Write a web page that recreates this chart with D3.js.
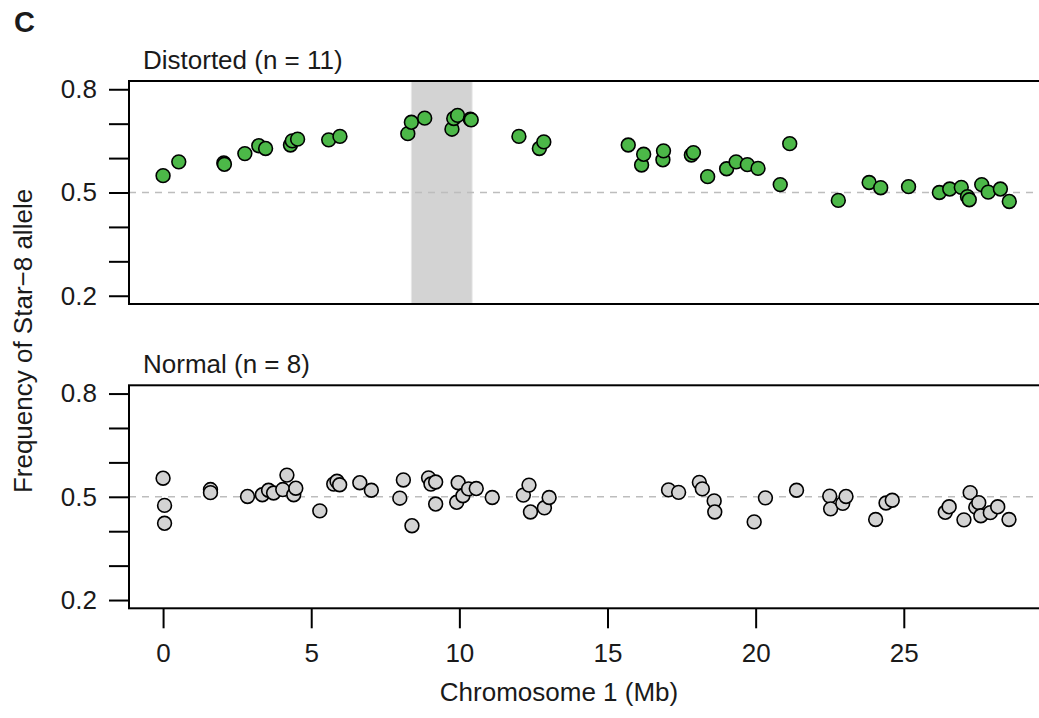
<!DOCTYPE html>
<html>
<head>
<meta charset="utf-8">
<script src="https://cdn.jsdelivr.net/npm/d3@7"></script>
<style>
  html, body { margin: 0; padding: 0; background: #fff; }
  svg { display: block; font-family: "Liberation Sans", Arial, Helvetica, sans-serif; }
</style>
</head>
<body>
<div id="chart"></div>
<script>
// Distorted pools (n = 11): position (Mb) and Star-8 allele frequency
const distortedPos = [0.00, 0.53, 2.05, 2.07, 2.76, 3.23, 3.46, 4.30, 4.36, 4.54, 5.59, 5.97,
  8.26, 8.38, 8.83, 9.75, 9.81, 9.94, 10.37, 10.40, 12.01, 12.70, 12.85,
  15.70, 16.15, 16.22, 16.87, 16.89, 17.83, 17.90, 18.38, 19.02, 19.34, 19.72, 20.08,
  20.83, 21.15, 22.79, 23.83, 24.22, 25.16, 26.20, 26.55, 26.94, 27.15, 27.21,
  27.63, 27.85, 28.26, 28.56];
const distortedFreq = [0.549, 0.589, 0.586, 0.582, 0.613, 0.636, 0.628, 0.638, 0.650, 0.655, 0.653, 0.663,
  0.671, 0.704, 0.716, 0.684, 0.715, 0.724, 0.713, 0.711, 0.663, 0.628, 0.647,
  0.638, 0.580, 0.611, 0.595, 0.621, 0.609, 0.616, 0.546, 0.569, 0.589, 0.581, 0.570,
  0.523, 0.642, 0.477, 0.529, 0.514, 0.517, 0.500, 0.510, 0.515, 0.488, 0.479,
  0.523, 0.501, 0.510, 0.474];

// Normal pools (n = 8)
const normalPos = [0.00, 0.05, 0.05, 1.60, 1.60, 2.85, 3.35, 3.56, 3.73, 4.04, 4.18, 4.41, 4.48,
  5.29, 5.76, 5.87, 5.96, 6.64, 7.03, 7.99, 8.11, 8.40, 8.96, 9.04, 9.20, 9.20,
  9.91, 9.96, 10.12, 10.31, 10.57, 11.11, 12.16, 12.35, 12.40, 12.87, 13.03,
  17.06, 17.40, 18.10, 18.20, 18.60, 18.62, 19.95, 20.33, 21.38, 22.50, 22.53,
  22.94, 23.05, 24.05, 24.40, 24.61, 26.40, 26.53, 27.03, 27.24, 27.43, 27.53,
  27.60, 27.92, 28.17, 28.55];
const normalFreq = [0.554, 0.475, 0.423, 0.521, 0.512, 0.501, 0.506, 0.519, 0.511, 0.521, 0.563, 0.506, 0.525,
  0.459, 0.537, 0.545, 0.535, 0.541, 0.519, 0.496, 0.549, 0.416, 0.555, 0.537, 0.543, 0.479,
  0.484, 0.541, 0.503, 0.523, 0.524, 0.498, 0.505, 0.534, 0.456, 0.468, 0.498,
  0.520, 0.513, 0.542, 0.523, 0.488, 0.456, 0.427, 0.497, 0.519, 0.502, 0.465,
  0.481, 0.501, 0.434, 0.482, 0.490, 0.455, 0.471, 0.433, 0.512, 0.470, 0.483,
  0.445, 0.454, 0.471, 0.434];

const shadedRegion = [8.38, 10.43];   // Mb, highlighted in the distorted panel
const yTicks = [0.2, 0.3, 0.4, 0.5, 0.6, 0.7, 0.8];
const yTickLabels = [0.2, 0.5, 0.8];
const xTicks = [0, 5, 10, 15, 20, 25];
const panelTitles = ["Distorted (n = 11)", "Normal (n = 8)"];

const W = 1039, H = 718;
const fontSize = 26;

const svg = d3.select("#chart").append("svg")
  .attr("width", W)
  .attr("height", H);

// x range padded like R's default 4%
const x = d3.scaleLinear().domain([-1.15, 29.85]).range([129, 1047.5]);

const panels = [
  { top: 81, bottom: 304, pos: distortedPos, freq: distortedFreq, fill: "#4cb848", title: panelTitles[0], shade: true, xAxis: false },
  { top: 385.3, bottom: 608.3, pos: normalPos, freq: normalFreq, fill: "#d3d3d3", title: panelTitles[1], shade: false, xAxis: true }
];

panels.forEach(p => {
  const y = d3.scaleLinear().domain([0.176, 0.824]).range([p.bottom, p.top]);
  const g = svg.append("g");

  // shaded interval
  if (p.shade) {
    g.append("rect")
      .attr("x", x(shadedRegion[0]))
      .attr("y", p.top)
      .attr("width", x(shadedRegion[1]) - x(shadedRegion[0]))
      .attr("height", p.bottom - p.top)
      .attr("fill", "#d3d3d3")
      .attr("stroke", "#e6e6e6")
      .attr("stroke-width", 1);
  }

  // 0.5 reference line
  g.append("line")
    .attr("x1", x.range()[0]).attr("x2", x.range()[1])
    .attr("y1", y(0.5)).attr("y2", y(0.5))
    .attr("stroke", "#bdbdbd")
    .attr("stroke-width", 1.6)
    .attr("stroke-dasharray", "7,6");

  // points
  const pts = p.pos.map((d, i) => ({ pos: d, freq: p.freq[i] }));
  g.selectAll("circle")
    .data(pts)
    .enter()
    .append("circle")
    .attr("cx", d => x(d.pos))
    .attr("cy", d => y(d.freq))
    .attr("r", 6.9)
    .attr("fill", p.fill)
    .attr("stroke", "#000")
    .attr("stroke-width", 1.6);

  // box (left, top, bottom; right edge falls outside the picture)
  g.append("rect")
    .attr("x", x.range()[0])
    .attr("y", p.top)
    .attr("width", x.range()[1] - x.range()[0])
    .attr("height", p.bottom - p.top)
    .attr("fill", "none")
    .attr("stroke", "#000")
    .attr("stroke-width", 2);

  // y axis
  const yAxis = g.append("g")
    .attr("transform", `translate(${x.range()[0]},0)`)
    .call(d3.axisLeft(y)
      .tickValues(yTicks)
      .tickSize(20)
      .tickPadding(12)
      .tickFormat(d => yTickLabels.some(v => Math.abs(v - d) < 1e-9) ? d3.format(".1f")(d) : ""));
  yAxis.select(".domain").remove();
  yAxis.selectAll("line").attr("stroke", "#000").attr("stroke-width", 2);
  yAxis.selectAll("text")
    .attr("fill", "#1a1a1a")
    .attr("font-size", fontSize)
    .attr("font-family", "Liberation Sans, Arial, sans-serif");

  if (p.xAxis) {
    const xAxis = g.append("g")
      .attr("transform", `translate(0,${p.bottom})`)
      .call(d3.axisBottom(x)
        .tickValues(xTicks)
        .tickSize(20)
        .tickPadding(15)
        .tickFormat(d3.format("d")));
    xAxis.select(".domain").remove();
    xAxis.selectAll("line").attr("stroke", "#000").attr("stroke-width", 2);
    xAxis.selectAll("text")
      .attr("fill", "#1a1a1a")
      .attr("font-size", fontSize)
      .attr("font-family", "Liberation Sans, Arial, sans-serif");
  }

  // panel title
  g.append("text")
    .attr("x", 143)
    .attr("y", p.top - 12)
    .attr("font-size", fontSize)
    .attr("fill", "#1a1a1a")
    .text(p.title);
});

// axis titles
svg.append("text")
  .attr("transform", "translate(32,341) rotate(-90)")
  .attr("text-anchor", "middle")
  .attr("font-size", fontSize)
  .attr("fill", "#1a1a1a")
  .text("Frequency of Star\u22128 allele");

svg.append("text")
  .attr("x", 559)
  .attr("y", 701)
  .attr("text-anchor", "middle")
  .attr("font-size", fontSize)
  .attr("fill", "#1a1a1a")
  .text("Chromosome 1 (Mb)");

// panel letter
svg.append("text")
  .attr("x", 14)
  .attr("y", 32)
  .attr("font-size", 29)
  .attr("font-weight", "bold")
  .attr("fill", "#1a1a1a")
  .text("C");
</script>
</body>
</html>
